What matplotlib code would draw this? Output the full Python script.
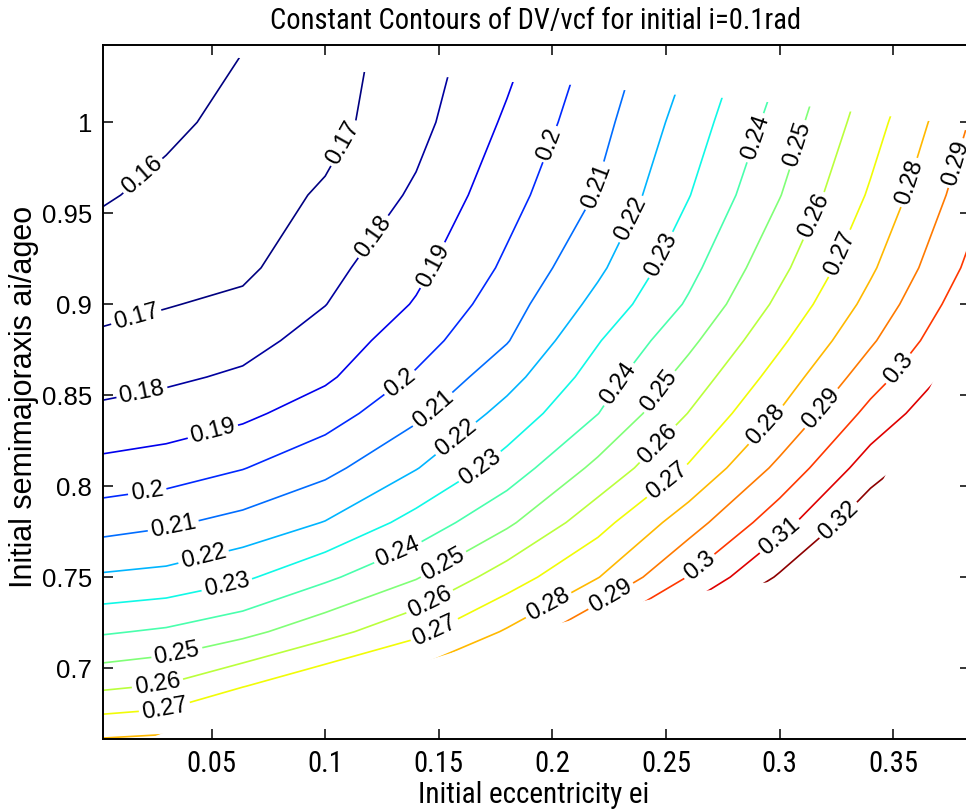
import numpy as np
import matplotlib
matplotlib.use("Agg")
import matplotlib.pyplot as plt
from matplotlib.patches import Polygon
from matplotlib.colors import Normalize
from matplotlib import font_manager as fm

# ---- data ----
ecc = [0.0022, 0.03, 0.0637, 0.10, 0.14, 0.18, 0.22, 0.26, 0.30, 0.34, 0.3838]
sma = [0.661, 0.69, 0.72, 0.75, 0.78, 0.81, 0.84, 0.86, 0.88, 0.90, 0.92, 0.96, 1.00, 1.0425]

dv_661 = [0.2804, 0.2818, 0.2936, 0.3022, 0.3076, 0.3200, 0.3440, 0.3636, 0.3856, 0.3900, 0.3970]
dv_690 = [0.2583, 0.2609, 0.2696, 0.2792, 0.2867, 0.3004, 0.3225, 0.3425, 0.3645, 0.3746, 0.3850]
dv_720 = [0.2389, 0.2414, 0.2471, 0.2564, 0.2675, 0.2811, 0.3008, 0.3206, 0.3426, 0.3590, 0.3720]
dv_750 = [0.2213, 0.2229, 0.2283, 0.2381, 0.2492, 0.2651, 0.2796, 0.3005, 0.3213, 0.3434, 0.3600]
dv_780 = [0.2059, 0.2085, 0.2131, 0.2204, 0.2337, 0.2481, 0.2664, 0.2855, 0.3060, 0.3281, 0.3469]
dv_810 = [0.1928, 0.1947, 0.1996, 0.2071, 0.2195, 0.2343, 0.2526, 0.2710, 0.2925, 0.3152, 0.3340]
dv_840 = [0.1820, 0.1841, 0.1877, 0.1954, 0.2077, 0.2235, 0.2398, 0.2603, 0.2806, 0.3030, 0.3226]
dv_860 = [0.1765, 0.1783, 0.1815, 0.1883, 0.2012, 0.2162, 0.2346, 0.2540, 0.2742, 0.2954, 0.3166]
dv_880 = [0.1714, 0.1736, 0.1766, 0.1840, 0.1958, 0.2094, 0.2293, 0.2476, 0.2681, 0.2886, 0.3113]
dv_900 = [0.1678, 0.1695, 0.1720, 0.1798, 0.1908, 0.2056, 0.2230, 0.2413, 0.2623, 0.2831, 0.3066]
dv_920 = [0.1648, 0.1671, 0.1680, 0.1770, 0.1875, 0.2018, 0.2181, 0.2370, 0.2575, 0.2785, 0.3022]
dv_960 = [0.1591, 0.1623, 0.1655, 0.1712, 0.1815, 0.1963, 0.2107, 0.2296, 0.2496, 0.2713, 0.2959]
dv_1000 = [0.1551, 0.1581, 0.1628, 0.1666, 0.1768, 0.1915, 0.2066, 0.2246, 0.2441, 0.2655, 0.2905]
dv_1043 = [0.1513, 0.1543, 0.1597, 0.1655, 0.1748, 0.1866, 0.2026, 0.2193, 0.2384, 0.2597, 0.2825]

levels = [0.16, 0.17, 0.18, 0.19, 0.20, 0.21, 0.22, 0.23, 0.24, 0.25,
          0.26, 0.27, 0.28, 0.29, 0.30, 0.31, 0.32]

# boundary of the region where the quantity is defined
top_x = [-0.0014, 0.0620, 0.1166, 0.1518, 0.1817, 0.2086, 0.2310, 0.2548, 0.2755,
         0.2953, 0.3147, 0.3327, 0.3508, 0.3692, 0.3816, 0.3882]
top_y = [1.0453, 1.0354, 1.0277, 1.0250, 1.0222, 1.0206, 1.0178, 1.0151, 1.0134,
         1.0111, 1.0085, 1.0057, 1.0030, 1.0002, 0.9958, 0.9936]
low_x = [0.3882, 0.3728, 0.3455, 0.3309, 0.3089, 0.2957, 0.2698, 0.2420, 0.2086,
         0.1571, 0.1399, 0.0999, 0.0638, 0.0299, 0.0242, 0.0185, -0.0014]
low_y = [0.9079, 0.8705, 0.8034, 0.7660, 0.7495, 0.7473, 0.7429, 0.7374, 0.7264,
         0.7089, 0.7023, 0.6913, 0.6803, 0.6649, 0.6621, 0.6561, 0.6561]

# label anchor positions
label_x = [0.0233, 0.0184, 0.1078, 0.0198, 0.1250, 0.0515, 0.1496, 0.0220, 0.1329, 0.2020,
           0.0338, 0.1483, 0.2200, 0.0471, 0.1580, 0.2372, 0.0572, 0.1681, 0.2504,
           0.1329, 0.2310, 0.2922, 0.0352, 0.1527, 0.2473, 0.3107,
           0.0264, 0.1461, 0.2473, 0.3191, 0.0294, 0.1483, 0.2508, 0.3279,
           0.1980, 0.2935, 0.3604, 0.2253, 0.3208, 0.3802, 0.2649, 0.3530, 0.3014, 0.3257]
label_y = [0.9656, 0.8859, 0.9887, 0.8485, 0.9337, 0.8254, 0.9200, 0.7941, 0.8567, 0.9865,
           0.7743, 0.8408, 0.9645, 0.7578, 0.8254, 0.9452, 0.7429, 0.8106, 0.9255,
           0.7611, 0.8545, 0.9903, 0.7056, 0.7556, 0.8518, 0.9865,
           0.6896, 0.7363, 0.8221, 0.9463, 0.6770, 0.7204, 0.8023, 0.9271,
           0.7353, 0.8342, 0.9656, 0.7403, 0.8402, 0.9766, 0.7556, 0.8639, 0.7704, 0.7814]

xticks = [0.05, 0.10, 0.15, 0.20, 0.25, 0.30, 0.35]
xtick_labels = ["0.05", "0.1", "0.15", "0.2", "0.25", "0.3", "0.35"]
yticks = [0.70, 0.75, 0.80, 0.85, 0.90, 0.95, 1.00]
ytick_labels = ["0.7", "0.75", "0.8", "0.85", "0.9", "0.95", "1"]

title = "Constant Contours of DV/vcf for initial i=0.1rad"
xlabel = "Initial eccentricity ei"
ylabel = "Initial semimajoraxis ai/ageo"

# ---- fonts ----
plt.rcParams['font.family'] = ['Liberation Sans', 'DejaVu Sans']


def find_condensed():
    prefer = ['liberation sans narrow', 'arial narrow', 'dejavu sans condensed',
              'noto sans condensed', 'roboto condensed', 'open sans condensed']
    ok_w = ('400', 'normal', 'regular', 'book')
    entries = [f for f in fm.fontManager.ttflist
               if f.style == 'normal' and str(f.weight).lower() in ok_w]
    for p in prefer:
        for f in entries:
            if f.name.lower() == p:
                return f.fname
    for f in entries:
        if 'sans' in f.name.lower() and str(f.stretch) in ('condensed', 'semi-condensed'):
            return f.fname
    return None


cond_path = find_condensed()
fp_x = fm.FontProperties(fname=cond_path) if cond_path else fm.FontProperties(family='Liberation Sans')

W, H = 966, 811
fig = plt.figure(figsize=(W / 100, H / 100), dpi=100)
renderer = fig.canvas.get_renderer()


def fit_size(s, fp, target_px, start=20.0):
    t = fig.text(0, 0, s, fontproperties=fp, fontsize=start)
    w = t.get_window_extent(renderer=renderer).width
    t.remove()
    return start * target_px / w


title_size = min(fit_size(title, fp_x, 530), 26)
xlabel_size = min(fit_size(xlabel, fp_x, 231), 26)
xtick_size = min(fit_size("0.05", fp_x, 50), 24)

# ---- plot ----
ax = fig.add_axes([103 / W, (H - 739) / H, 867 / W, 694 / H])

X, Y = np.meshgrid(ecc, sma)
Z = np.array([dv_661, dv_690, dv_720, dv_750, dv_780, dv_810, dv_840, dv_860,
              dv_880, dv_900, dv_920, dv_960, dv_1000, dv_1043])

norm = Normalize(vmin=0.176, vmax=0.322)
cs = ax.contour(X, Y, Z, levels=levels, cmap='jet', norm=norm, linewidths=1.2)

ax.set_xlim(0.0022, 0.3838)
ax.set_ylim(0.661, 1.0425)

ax.clabel(cs, levels, manual=list(zip(label_x, label_y)), inline=True,
          inline_spacing=3, fmt=lambda v: f"{v:g}", fontsize=17, colors='k')

poly = Polygon(list(zip(top_x + low_x, top_y + low_y)), closed=True,
               transform=ax.transData, facecolor='none', edgecolor='none')
cs.set_clip_path(poly)

ax.set_xticks(xticks)
ax.set_xticklabels(xtick_labels, fontproperties=fp_x, fontsize=xtick_size)
ax.set_yticks(yticks)
ax.set_yticklabels(ytick_labels, fontsize=18.5)
ax.tick_params(axis='both', direction='in', top=True, right=True,
               length=7, width=1.1, colors='k')
ax.tick_params(axis='x', pad=8)
ax.tick_params(axis='y', pad=8)
for s in ax.spines.values():
    s.set_linewidth(1.4)

fig.text(536 / W, (H - 29) / H, title, ha='center', va='baseline',
         fontproperties=fp_x, fontsize=title_size)
fig.text(534 / W, (H - 803) / H, xlabel, ha='center', va='baseline',
         fontproperties=fp_x, fontsize=xlabel_size)
fig.text(24 / W, (H - 397) / H, ylabel, ha='center', va='center',
         rotation=90, fontsize=22)

fig.savefig("out.png", dpi=100)
